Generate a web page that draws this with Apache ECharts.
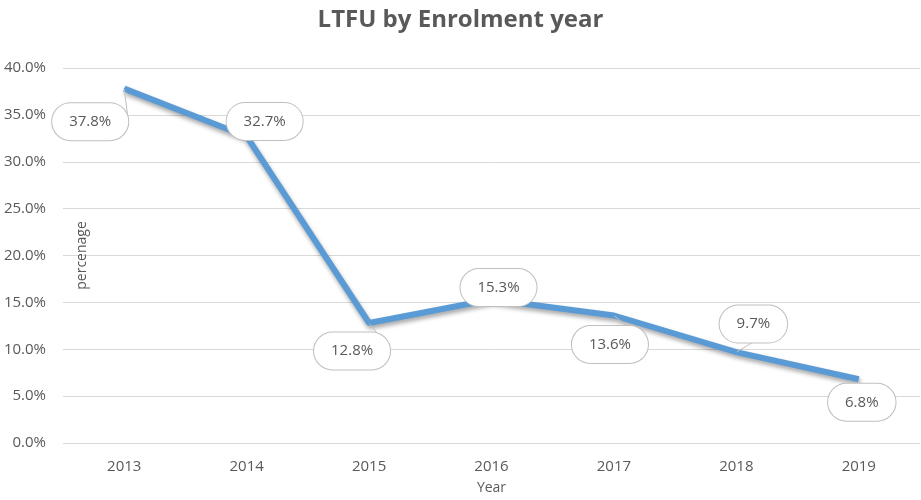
<!DOCTYPE html>
<html>
<head>
<meta charset="utf-8">
<script src="https://cdn.jsdelivr.net/npm/echarts@6/dist/echarts.min.js"></script>
<style>html,body{margin:0;padding:0;background:#fff;}#c{width:921px;height:500px;}</style>
</head>
<body>
<div id="c"></div>
<script>
const years = ['2013','2014','2015','2016','2017','2018','2019'];
const ltfu = [37.8, 32.7, 12.8, 15.3, 13.6, 9.7, 6.8];
const labelOffsets = [[-34,33],[18,-15],[-17,28],[7,-12],[-4,29],[17,-28],[3,23]];

const chart = echarts.init(document.getElementById('c'));
const font = '"Open Sans", "Noto Sans", sans-serif';
const gray = '#595959';
chart.setOption({
  animation: false,
  title: {
    text: 'LTFU by Enrolment year', left: 'center', top: 3,
    textStyle: {fontFamily: font, fontSize: 24, fontWeight: 'bold', color: gray}
  },
  grid: {left: 63, right: 1, top: 68, bottom: 56},
  xAxis: {
    type: 'category', data: years,
    name: 'Year', nameLocation: 'middle', nameGap: 38,
    nameTextStyle: {fontFamily: font, fontSize: 14, color: gray},
    axisLine: {show: false}, axisTick: {show: false},
    axisLabel: {fontFamily: font, fontSize: 15, color: gray, margin: 16}
  },
  yAxis: {
    type: 'value', min: 0, max: 40, interval: 5,
    name: 'percenage', nameLocation: 'middle', nameGap: -26, nameRotate: 90,
    nameTextStyle: {fontFamily: font, fontSize: 14, color: gray},
    axisLabel: {fontFamily: font, fontSize: 15, color: gray, margin: 17,
      formatter: v => v.toFixed(1) + '%'},
    splitLine: {lineStyle: {color: '#d9d9d9', width: 1}}
  },
  series: [{
    type: 'line',
    data: ltfu.map((v, i) => ({
      value: v,
      label: {offset: labelOffsets[i]}
    })),
    symbol: 'circle', symbolSize: 1,
    itemStyle: {color: '#5B9BD5'},
    lineStyle: {color: '#5B9BD5', width: 6,
      shadowColor: 'rgba(0,0,0,0.35)', shadowBlur: 4, shadowOffsetX: 1, shadowOffsetY: 3},
    label: {
      show: true, position: 'inside',
      formatter: p => p.value.toFixed(1) + '%',
      fontFamily: font, fontSize: 15, color: gray,
      backgroundColor: '#fff', borderColor: '#bfbfbf', borderWidth: 1,
      borderRadius: 22, padding: [11, 17]
    },
    labelLine: {show: true, lineStyle: {color: '#bfbfbf', width: 1}}
  }]
});
</script>
</body>
</html>
